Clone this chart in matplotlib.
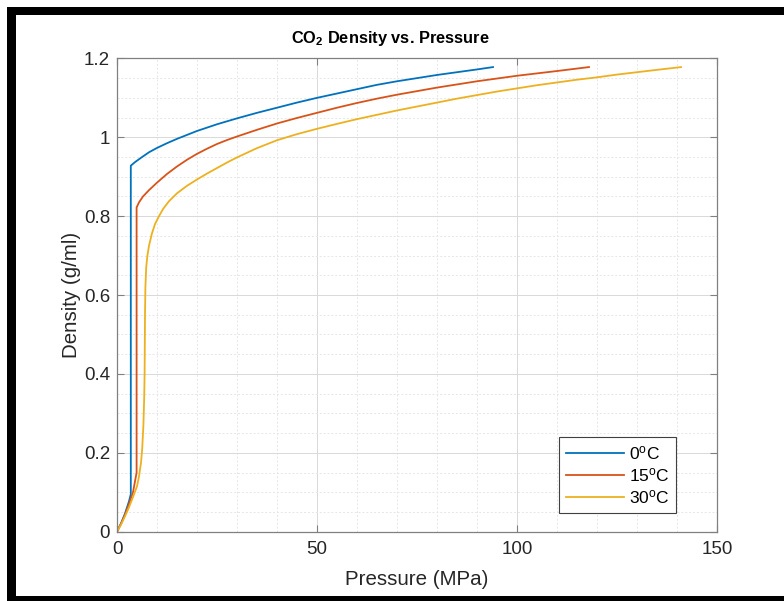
import matplotlib
matplotlib.use('Agg')
import matplotlib.pyplot as plt
from matplotlib.patches import Rectangle
from matplotlib.ticker import MultipleLocator, FuncFormatter

font = 'Liberation Sans'
plt.rcParams['font.family'] = [font, 'DejaVu Sans']
plt.rcParams['mathtext.fontset'] = 'custom'
plt.rcParams['mathtext.rm'] = font
plt.rcParams['mathtext.it'] = font
plt.rcParams['mathtext.bf'] = font + ':bold'

# data (pressure MPa, density g/ml)
p_0c = [0, 1, 2, 3, 3.45, 3.45, 4.5, 6, 8, 10, 12.5, 15, 17.5, 20, 25, 30, 35, 40,
        45, 50, 55, 60, 65, 70, 75, 80, 85, 90, 94]
rho_0c = [0, 0.021, 0.046, 0.077, 0.095, 0.928, 0.937, 0.948, 0.962, 0.973, 0.985,
          0.996, 1.006, 1.016, 1.033, 1.048, 1.062, 1.075, 1.088, 1.100, 1.111, 1.122,
          1.133, 1.142, 1.150, 1.158, 1.165, 1.172, 1.178]

p_15c = [0, 1, 2, 3, 4, 4.9, 4.9, 5.5, 6.5, 8, 10, 12.5, 15, 17.5, 20, 22.5, 25,
         27.5, 30, 35, 40, 45, 50, 55, 60, 65, 70, 75, 80, 85, 90, 95, 100, 105, 110,
         114, 118]
rho_15c = [0, 0.02, 0.043, 0.07, 0.10, 0.15, 0.822, 0.835, 0.850, 0.866, 0.885,
           0.907, 0.926, 0.943, 0.958, 0.971, 0.983, 0.993, 1.002, 1.019, 1.035,
           1.049, 1.062, 1.075, 1.087, 1.098, 1.108, 1.117, 1.126, 1.134, 1.142,
           1.149, 1.156, 1.162, 1.168, 1.173, 1.178]

p_30c = [0, 1, 2, 3, 4, 5, 5.5, 6, 6.3, 6.6, 6.8, 6.9, 6.95, 7.0, 7.1, 7.3, 7.6, 8.0,
         8.7, 9.5, 10.5, 11.5, 13, 15, 17.5, 20, 22.5, 25, 27.5, 30, 35, 40, 45, 50,
         55, 60, 65, 70, 75, 80, 85, 90, 95, 100, 105, 110, 115, 120, 125, 130, 135, 141]
rho_30c = [0, 0.018, 0.039, 0.062, 0.088, 0.115, 0.14, 0.175, 0.21, 0.27, 0.34, 0.40,
           0.47, 0.55, 0.62, 0.67, 0.70, 0.725, 0.755, 0.78, 0.80, 0.818, 0.838,
           0.858, 0.877, 0.893, 0.908, 0.922, 0.936, 0.949, 0.9725, 0.9925, 1.008,
           1.0215, 1.034, 1.046, 1.057, 1.068, 1.078, 1.088, 1.098, 1.107, 1.116,
           1.124, 1.132, 1.139, 1.146, 1.152, 1.159, 1.165, 1.171, 1.178]

labels = ['0$^{\\mathrm{o}}$C', '15$^{\\mathrm{o}}$C', '30$^{\\mathrm{o}}$C']
colors = ['#0072BD', '#D95319', '#EDB120']

W, H = 784, 601
fig = plt.figure(figsize=(W / 100, H / 100), dpi=100)
ax = fig.add_axes([117 / W, 1 - 531.7 / H, 600 / W, 473.3 / H])

ax.plot(p_0c, rho_0c, color=colors[0], lw=1.3, label=labels[0])
ax.plot(p_15c, rho_15c, color=colors[1], lw=1.3, label=labels[1])
ax.plot(p_30c, rho_30c, color=colors[2], lw=1.3, label=labels[2])

ax.set_xlim(0, 150)
ax.set_ylim(0, 1.2)
ax.xaxis.set_major_locator(MultipleLocator(50))
ax.xaxis.set_minor_locator(MultipleLocator(10))
ax.yaxis.set_major_locator(MultipleLocator(0.2))
ax.yaxis.set_minor_locator(MultipleLocator(0.05))
ax.yaxis.set_major_formatter(FuncFormatter(lambda v, pos: '%g' % round(v, 2)))

ax.grid(True, which='major', color='#d9d9d9', lw=0.7)
ax.grid(True, which='minor', color='#e6e6e6', lw=0.7, linestyle=(0, (2, 2)))
ax.set_axisbelow(True)

tsize = 13.5
ax.tick_params(which='major', direction='in', length=5, width=0.8, top=True,
               right=True, colors='#808080', labelcolor='#262626', labelsize=tsize)
ax.tick_params(axis='x', which='major', pad=7)
ax.tick_params(axis='y', which='major', pad=5)
ax.tick_params(which='minor', length=0)
for s in ax.spines.values():
    s.set_color('#808080')
    s.set_linewidth(0.9)

ax.set_xlabel('Pressure (MPa)', fontsize=14.8, color='#262626', labelpad=8)
ax.set_ylabel('Density (g/ml)', fontsize=14.8, color='#262626', labelpad=2)
ax.set_title('CO$_{\\mathbf{2}}$ Density vs. Pressure', fontsize=11.8,
             fontweight='bold', color='black', pad=11, x=0.455)

leg = ax.legend(loc='lower right', bbox_to_anchor=(0.932, 0.0395), fontsize=12.5,
                fancybox=False, framealpha=1, edgecolor='#404040',
                handlelength=3.3, handletextpad=0.3, borderpad=0.4,
                labelspacing=0.22, borderaxespad=0)
leg.get_frame().set_linewidth(0.8)

# thick black frame around the picture
def frame_box(x0, y0, x1, y1):
    fig.add_artist(Rectangle((x0 / W, 1 - y1 / H), (x1 - x0) / W, (y1 - y0) / H,
                             transform=fig.transFigure, color='black', lw=0))

frame_box(7, 7, 784, 15)
frame_box(7, 7, 15.7, 601)
frame_box(7, 596, 784, 601)

fig.savefig('out.png', dpi=100)
